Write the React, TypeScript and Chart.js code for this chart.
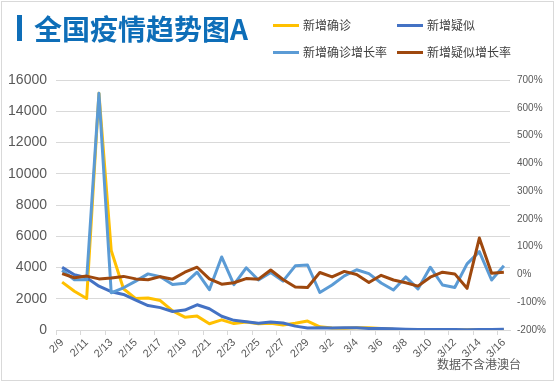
import React, { useEffect, useRef } from "react";
import { Chart, registerables } from "chart.js";

Chart.register(...registerables);

const dates = [
  "2/9", "2/10", "2/11", "2/12", "2/13", "2/14", "2/15", "2/16", "2/17", "2/18",
  "2/19", "2/20", "2/21", "2/22", "2/23", "2/24", "2/25", "2/26", "2/27", "2/28",
  "2/29", "3/1", "3/2", "3/3", "3/4", "3/5", "3/6", "3/7", "3/8", "3/9",
  "3/10", "3/11", "3/12", "3/13", "3/14", "3/15", "3/16",
];

const newConfirmed = [
  3062, 2478, 2015, 15152, 5090, 2641, 2009, 2048, 1886, 1220,
  820, 889, 397, 648, 409, 508, 406, 433, 327, 427,
  573, 202, 125, 119, 139, 143, 99, 44, 40, 19,
  24, 15, 8, 11, 20, 16, 21,
];

const newSuspected = [
  4008, 3536, 3342, 2807, 2450, 2277, 1918, 1563, 1432, 1185,
  1277, 1614, 1361, 882, 620, 530, 439, 508, 452, 248,
  132, 141, 129, 143, 143, 102, 99, 80, 56, 32,
  29, 31, 32, 16, 37, 38, 41,
];

// growth rates in percent
const confirmedGrowth = [
  15, -19, -19, 652, -66, -48, -24, 2, -8, -36,
  -32, 8, -55, 63, -37, 24, -20, 7, -24, 31,
  34, -65, -38, -5, 17, 3, -31, -56, -9, -52,
  26, -38, -47, 38, 82, -20, 31,
];

const suspectedGrowth = [
  3, -12, -6, -16, -13, -7, -16, -19, -8, -17,
  8, 26, -16, -35, -30, -15, -17, 16, -18, -45,
  -47, 7, -9, 11, 0, -29, -3, -20, -30, -42,
  -10, 8, 2, -50, 131, 4, 8,
];

const leftTicks = { min: 0, max: 16000, step: 2000 };
const rightTicks = { min: -200, max: 700, step: 100 };

const seriesNames = ["新增确诊", "新增疑似", "新增确诊增长率", "新增疑似增长率"];
const seriesColors = ["#FFC000", "#4472C4", "#5B9BD5", "#9E480E"];

const tickFont = "'Liberation Sans', Arial, sans-serif";
const cjkFont = "'Noto Sans CJK SC', 'Noto Sans', sans-serif";

export default function App() {
  const canvasRef = useRef<HTMLCanvasElement | null>(null);

  useEffect(() => {
    document.body.style.margin = "0";
    const canvas = canvasRef.current;
    if (!canvas) return;
    const chart = new Chart(canvas, {
      type: "line",
      data: {
        labels: dates,
        datasets: [
          {
            label: seriesNames[0],
            data: newConfirmed,
            borderColor: seriesColors[0],
            backgroundColor: seriesColors[0],
            yAxisID: "y",
            order: 4,
          },
          {
            label: seriesNames[1],
            data: newSuspected,
            borderColor: seriesColors[1],
            backgroundColor: seriesColors[1],
            yAxisID: "y",
            order: 3,
          },
          {
            label: seriesNames[2],
            data: confirmedGrowth,
            borderColor: seriesColors[2],
            backgroundColor: seriesColors[2],
            yAxisID: "y1",
            order: 2,
          },
          {
            label: seriesNames[3],
            data: suspectedGrowth,
            borderColor: seriesColors[3],
            backgroundColor: seriesColors[3],
            yAxisID: "y1",
            order: 1,
          },
        ],
      },
      options: {
        animation: false,
        responsive: false,
        maintainAspectRatio: false,
        events: [],
        elements: {
          line: { borderWidth: 3, tension: 0, borderJoinStyle: "round" },
          point: { radius: 0 },
        },
        layout: { padding: { top: 80, left: 0, right: 0, bottom: 0 } },
        plugins: {
          legend: { display: false },
          title: { display: false },
          tooltip: { enabled: false },
        },
        scales: {
          x: {
            type: "category",
            offset: true,
            grid: {
              offset: true,
              drawOnChartArea: false,
              drawTicks: true,
              tickLength: 5,
              color: (ctx: any) => (ctx.index % 2 === 0 ? "#d9d9d9" : "rgba(0,0,0,0)"),
            },
            border: { color: "#d9d9d9", width: 1 },
            ticks: {
              autoSkip: false,
              maxRotation: 45,
              minRotation: 45,
              padding: 1,
              color: "#595959",
              font: { family: tickFont, size: 11 },
              callback: (_v: any, i: number) => (i % 2 === 0 ? dates[i] : ""),
            },
            afterFit: (s: any) => {
              s.height = 52;
            },
          },
          y: {
            position: "left",
            min: leftTicks.min,
            max: leftTicks.max,
            grid: { color: "#d9d9d9", drawTicks: false },
            border: { display: false },
            ticks: {
              stepSize: leftTicks.step,
              padding: 9,
              color: "#595959",
              font: { family: tickFont, size: 14 },
              callback: (v: any) => String(v),
            },
            afterFit: (s: any) => {
              s.width = 56;
            },
          },
          y1: {
            position: "right",
            min: rightTicks.min,
            max: rightTicks.max,
            grid: { drawOnChartArea: false, drawTicks: false },
            border: { display: false },
            ticks: {
              stepSize: rightTicks.step,
              padding: 7,
              color: "#595959",
              font: { family: tickFont, size: 10 },
              callback: (v: any) => `${v}%`,
            },
            afterFit: (s: any) => {
              s.width = 45;
            },
          },
        },
      },
    });
    return () => chart.destroy();
  }, []);

  const legendPos = [
    { left: 273, top: 25 },
    { left: 397, top: 25 },
    { left: 273, top: 52 },
    { left: 397, top: 52 },
  ];
  const legendOrder = [0, 1, 2, 3];

  return (
    <div
      style={{
        position: "relative",
        width: 555,
        height: 382,
        background: "#ffffff",
        overflow: "hidden",
        fontFamily: cjkFont,
      }}
    >
      <div
        style={{
          position: "absolute",
          left: 1,
          top: 1,
          width: 553,
          height: 380,
          border: "1px solid #d9d9d9",
          boxSizing: "border-box",
        }}
      />
      <canvas
        ref={canvasRef}
        width={555}
        height={382}
        style={{ position: "absolute", left: 0, top: 0, width: 555, height: 382 }}
      />
      <div
        style={{
          position: "absolute",
          left: 17,
          top: 15,
          width: 5,
          height: 26,
          background: "#0E6EB8",
        }}
      />
      <div
        style={{
          position: "absolute",
          left: 34,
          top: 12,
          fontSize: 28,
          lineHeight: "32px",
          fontWeight: 700,
          color: "#0E6EB8",
          whiteSpace: "nowrap",
        }}
      >
        全国疫情趋势图A
      </div>
      {legendOrder.map((i) => (
        <div
          key={i}
          style={{
            position: "absolute",
            left: legendPos[i].left,
            top: legendPos[i].top - 8,
            height: 16,
            display: "flex",
            alignItems: "center",
            whiteSpace: "nowrap",
          }}
        >
          <div style={{ width: 26, height: 3, background: seriesColors[i], marginRight: 4 }} />
          <span style={{ fontSize: 12, color: "#404040", lineHeight: "16px" }}>{seriesNames[i]}</span>
        </div>
      ))}
      <div
        style={{
          position: "absolute",
          left: 437,
          top: 356,
          fontSize: 12,
          lineHeight: "16px",
          color: "#595959",
          whiteSpace: "nowrap",
        }}
      >
        数据不含港澳台
      </div>
    </div>
  );
}
